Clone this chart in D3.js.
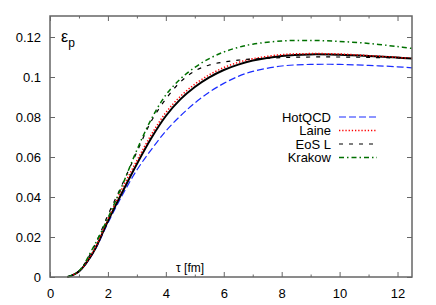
<!DOCTYPE html>
<html>
<head>
<meta charset="utf-8">
<script src="https://cdn.jsdelivr.net/npm/d3@7"></script>
<style>
  body { margin: 0; background: #fff; }
  svg { display: block; font-family: "Liberation Sans", Arial, sans-serif; }
</style>
</head>
<body>
<svg id="chart" width="436" height="305"></svg>
<script>
// proper time grid [fm] shared by all curves
const tau = [0.6, 1.0, 1.5, 2.0, 2.5, 3.0, 3.5, 4.0, 4.5, 5.0, 5.5, 6.0, 6.5, 7, 8, 9, 10, 11, 12, 12.5];

// momentum anisotropy eps_p
const ideal   = [0, 0.0028, 0.0125, 0.0280, 0.0425, 0.0565, 0.0695, 0.0805, 0.0888, 0.0950, 0.0998, 0.1035, 0.1062, 0.1082, 0.1105, 0.1113, 0.1111, 0.1105, 0.1097, 0.1092];
const hotqcd  = [0, 0.0027, 0.0122, 0.0270, 0.0410, 0.0535, 0.0637, 0.0730, 0.0805, 0.0870, 0.0924, 0.0968, 0.1003, 0.1028, 0.1055, 0.1063, 0.1063, 0.1058, 0.1051, 0.1046];
const laine   = [0, 0.0028, 0.0130, 0.0290, 0.0445, 0.0582, 0.0712, 0.0822, 0.0903, 0.0964, 0.1011, 0.1047, 0.1073, 0.1091, 0.1112, 0.1117, 0.1115, 0.1107, 0.1098, 0.1093];
const eosL    = [0, 0.0030, 0.0145, 0.0310, 0.0465, 0.0625, 0.0780, 0.0890, 0.0975, 0.1030, 0.1060, 0.1075, 0.1084, 0.1090, 0.1097, 0.1100, 0.1100, 0.1098, 0.1095, 0.1092];
const krakow  = [0, 0.0030, 0.0150, 0.0295, 0.0460, 0.0635, 0.0790, 0.0910, 0.0990, 0.1048, 0.1092, 0.1125, 0.1148, 0.1164, 0.1180, 0.1183, 0.1178, 0.1168, 0.1152, 0.1143];

const xTicks = [0, 2, 4, 6, 8, 10, 12];
const xMinor = [1, 3, 5, 7, 9, 11];
const yTicks = [0, 0.02, 0.04, 0.06, 0.08, 0.1, 0.12];

const margin = { top: 16, right: 24, bottom: 28, left: 50 };
const W = 436, H = 305;

const x = d3.scaleLinear().domain([0, 12.5]).range([margin.left, W - margin.right]);
const y = d3.scaleLinear().domain([0, 0.1305]).range([H - margin.bottom, margin.top]);

const svg = d3.select('#chart');

// curves
const line = d3.line()
    .x(d => x(d[0]))
    .y(d => y(d[1]))
    .curve(d3.curveCatmullRom.alpha(0.5));

const series = [
    { name: 'HotQCD', values: hotqcd, color: '#1a2cff', dash: '7,3',       width: 1.2, legend: true },
    { name: 'ideal',  values: ideal,  color: '#000',    dash: null,        width: 2,   legend: false },
    { name: 'Laine',  values: laine,  color: '#ff0000', dash: '1.3,1.9',   width: 1.5, legend: true },
    { name: 'EoS L',  values: eosL,   color: '#000',    dash: '4,6',       width: 1.2, legend: true },
    { name: 'Krakow', values: krakow, color: '#007000', dash: '5,3,1.5,3', width: 1.5, legend: true },
];

svg.append('g').selectAll('path')
    .data(series)
    .enter().append('path')
    .attr('fill', 'none')
    .attr('stroke', d => d.color)
    .attr('stroke-width', d => d.width)
    .attr('stroke-dasharray', d => d.dash)
    .attr('d', d => line(tau.map((t, i) => [t, d.values[i]])));

// axes, ticks pointing inward
const axisColor = '#666';
function styleAxis(g) {
    g.select('.domain').remove();
    g.selectAll('.tick line').attr('stroke', axisColor);
    g.selectAll('.tick text').attr('fill', '#000').style('font-size', '13px');
}

svg.append('g')
    .attr('transform', `translate(0,${H - margin.bottom})`)
    .call(d3.axisBottom(x).tickValues(xTicks).tickSize(-5).tickPadding(12).tickFormat(d3.format('d')))
    .call(styleAxis);
svg.append('g')
    .attr('transform', `translate(0,${H - margin.bottom})`)
    .call(d3.axisBottom(x).tickValues(xMinor).tickSize(-2.5).tickFormat(''))
    .call(styleAxis);
svg.append('g')
    .attr('transform', `translate(0,${margin.top})`)
    .call(d3.axisTop(x).tickValues(xTicks).tickSize(-5).tickFormat(''))
    .call(styleAxis);
svg.append('g')
    .attr('transform', `translate(0,${margin.top})`)
    .call(d3.axisTop(x).tickValues(xMinor).tickSize(-2.5).tickFormat(''))
    .call(styleAxis);
svg.append('g')
    .attr('transform', `translate(${margin.left},0)`)
    .call(d3.axisLeft(y).tickValues(yTicks).tickSize(-5).tickPadding(9)
        .tickFormat(d => d === 0 ? '0' : d3.format('')(+d.toFixed(2))))
    .call(styleAxis);
svg.append('g')
    .attr('transform', `translate(${W - margin.right},0)`)
    .call(d3.axisRight(y).tickValues(yTicks).tickSize(-5).tickFormat(''))
    .call(styleAxis);

// frame
svg.append('rect')
    .attr('x', margin.left).attr('y', margin.top)
    .attr('width', W - margin.left - margin.right)
    .attr('height', H - margin.top - margin.bottom)
    .attr('fill', 'none')
    .attr('stroke', axisColor)
    .attr('stroke-width', 1.5);

// axis labels inside the frame
const ylab = svg.append('text')
    .attr('x', 61).attr('y', 42)
    .style('font-size', '16px');
ylab.append('tspan').text('ε');
ylab.append('tspan').attr('dy', 5).style('font-size', '12px').text('p');

svg.append('text')
    .attr('x', 176).attr('y', 272)
    .style('font-size', '12px')
    .text('τ [fm]');

// legend
const leg = svg.append('g');
const legItems = series.filter(d => d.legend);
legItems.forEach((d, i) => {
    const yy = 121.5 + i * 13.5;
    leg.append('text')
        .attr('x', 331).attr('y', yy)
        .attr('text-anchor', 'end')
        .style('font-size', '13px')
        .text(d.name);
    leg.append('line')
        .attr('x1', 339).attr('x2', 377)
        .attr('y1', yy - 4.5).attr('y2', yy - 4.5)
        .attr('stroke', d.color)
        .attr('stroke-width', d.width)
        .attr('stroke-dasharray', d.dash);
});
</script>
</body>
</html>
